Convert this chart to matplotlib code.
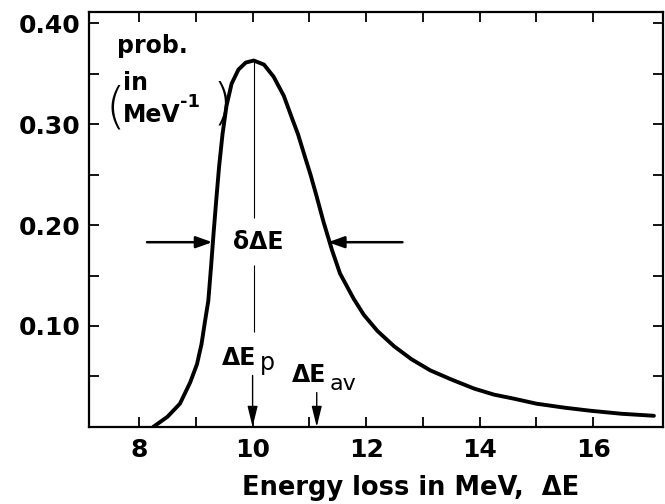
import matplotlib
matplotlib.use("Agg")
import matplotlib.pyplot as plt

# energy-loss distribution (Landau-like)
energy = [8.25, 8.50, 8.72, 8.90, 9.02, 9.10, 9.16, 9.22, 9.27, 9.31,
          9.36, 9.41, 9.47, 9.54, 9.63, 9.75, 9.88, 10.02, 10.20, 10.37,
          10.55, 10.70, 10.80, 10.92, 11.02, 11.13, 11.25, 11.40, 11.54, 11.78,
          11.96, 12.20, 12.49, 12.80, 13.13, 13.50, 13.90, 14.25, 14.60, 15.00,
          15.50, 15.95, 16.50, 17.07]
prob = [0.000, 0.010, 0.023, 0.044, 0.062, 0.082, 0.104, 0.125, 0.160, 0.190,
        0.225, 0.258, 0.290, 0.318, 0.340, 0.354, 0.361, 0.363, 0.359, 0.347,
        0.328, 0.305, 0.290, 0.268, 0.250, 0.228, 0.203, 0.175, 0.152, 0.127,
        0.111, 0.095, 0.080, 0.067, 0.056, 0.047, 0.038, 0.032, 0.028, 0.023,
        0.019, 0.016, 0.013, 0.011]

e_peak = 10.02     # most probable energy loss
e_avg = 11.13      # average energy loss
fwhm_left = 9.29
fwhm_right = 11.33
fwhm_level = 0.183

x_major = [8, 10, 12, 14, 16]
x_minor = [9, 11, 13, 15]
y_major = [0.10, 0.20, 0.30, 0.40]
y_labels = ["0.10", "0.20", "0.30", "0.40"]
y_minor = [0.05, 0.15, 0.25, 0.35]

FONT = dict(family="DejaVu Sans", weight="bold", size=17)
plt.rcParams["font.family"] = "DejaVu Sans"

fig, ax = plt.subplots(figsize=(6.65, 5.04), dpi=100)
fig.subplots_adjust(left=0.134, right=0.997, bottom=0.153, top=0.976)

ax.plot(energy, prob, color="black", linewidth=2.8, solid_capstyle="round")

ax.set_xlim(7.12, 17.23)
ax.set_ylim(0.0, 0.411)

# thin line from the peak, broken by the labels
ax.vlines(e_peak, 0.207, max(prob), color="black", linewidth=0.8)
ax.vlines(e_peak, 0.094, 0.160, color="black", linewidth=0.8)

arrow = dict(arrowstyle="-|>,head_length=0.9,head_width=0.22", color="black",
             lw=1.0, mutation_scale=14, shrinkA=0, shrinkB=0)
ax.annotate("", xy=(e_peak - 0.02, 0.0), xytext=(e_peak - 0.02, 0.051),
            arrowprops=arrow)
ax.annotate("", xy=(e_avg, 0.0), xytext=(e_avg, 0.034), arrowprops=arrow)

# width arrows
warrow = dict(arrowstyle="-|>,head_length=0.7,head_width=0.25", color="black",
              lw=1.8, mutation_scale=14, shrinkA=0, shrinkB=0)
ax.annotate("", xy=(fwhm_left, fwhm_level), xytext=(8.14, fwhm_level),
            arrowprops=warrow)
ax.annotate("", xy=(fwhm_right, fwhm_level), xytext=(12.64, fwhm_level),
            arrowprops=warrow)

ax.text(10.10, fwhm_level, "δΔE", ha="center", va="center", **FONT)

ax.text(9.46, 0.061, "ΔE", ha="left", va="baseline", **FONT)
ax.text(10.13, 0.056, "p", ha="left", va="baseline", family="DejaVu Sans",
        size=17)
ax.text(10.70, 0.044, "ΔE", ha="left", va="baseline", **FONT)
ax.text(11.36, 0.037, "av", ha="left", va="baseline", family="DejaVu Sans",
        size=16)

# y-axis title inside the frame
ax.text(7.61, 0.370, "prob.", ha="left", va="baseline", **FONT)
ax.text(7.72, 0.334, "in", ha="left", va="baseline", **FONT)
ax.text(7.72, 0.302, "MeV", ha="left", va="baseline", **FONT)
ax.text(8.72, 0.317, "-1", ha="left", va="baseline", family="DejaVu Sans",
        weight="bold", size=13)
ax.text(7.40, 0.302, "(", ha="left", va="baseline", family="DejaVu Sans",
        weight="light", size=36)
ax.text(9.30, 0.306, ")", ha="left", va="baseline", family="DejaVu Sans",
        weight="light", size=36)

ax.set_xticks(x_major)
ax.set_xticks(x_minor, minor=True)
ax.set_yticks(y_major)
ax.set_yticklabels(y_labels)
ax.set_yticks(y_minor, minor=True)
for lab in ax.get_xticklabels() + ax.get_yticklabels():
    lab.set_fontweight("bold")
    lab.set_fontsize(18)

ax.tick_params(which="both", direction="in", top=True, right=True,
               length=7, width=1.3)
ax.tick_params(axis="x", pad=8)
ax.tick_params(axis="y", pad=6)
for sp in ax.spines.values():
    sp.set_linewidth(1.6)

ax.set_xlabel("Energy loss in MeV,  ΔE", fontdict=dict(FONT, size=18.5))
ax.xaxis.set_label_coords(0.561, -0.115)

fig.savefig("out.png", dpi=100)
